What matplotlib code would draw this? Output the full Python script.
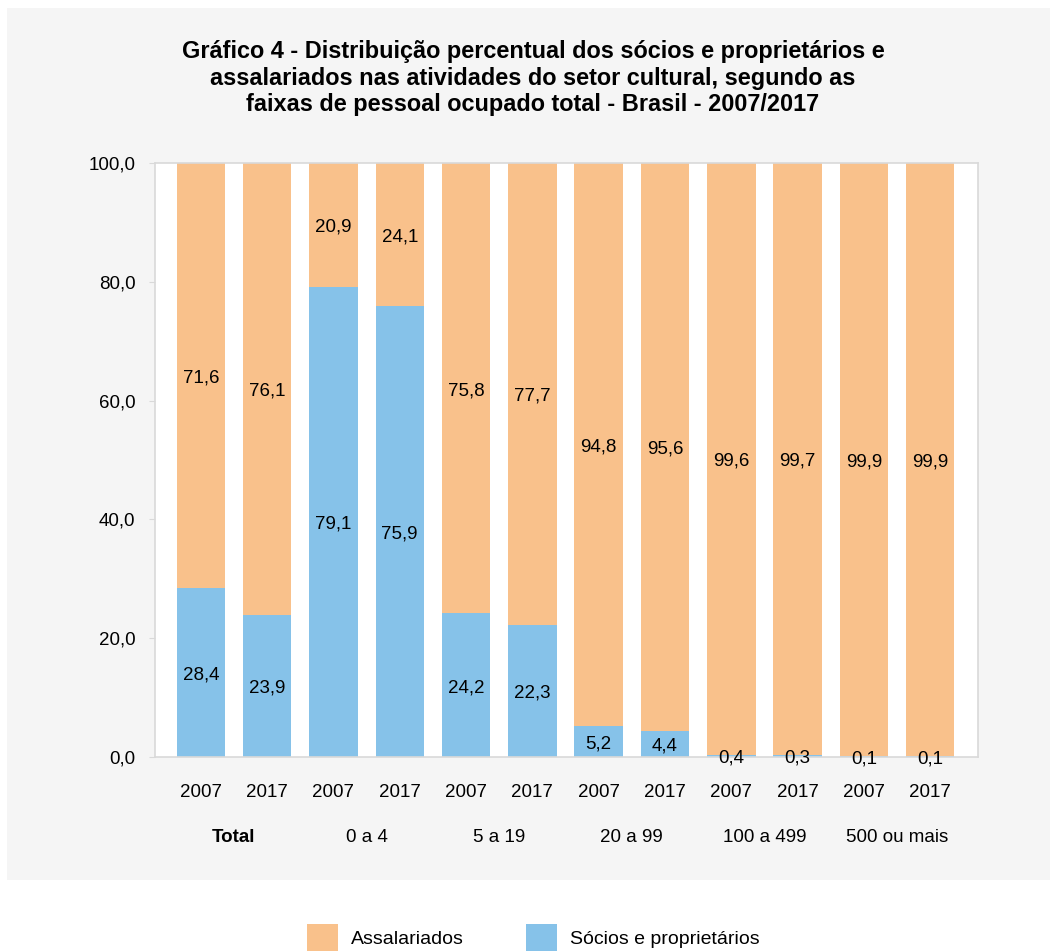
import matplotlib
matplotlib.use('Agg')
import matplotlib.pyplot as plt
from matplotlib.patches import Rectangle
import matplotlib.transforms as mtransforms
import numpy as np

plt.rcParams['font.family'] = ['Liberation Sans', 'DejaVu Sans']

groups = ['Total', '0 a 4', '5 a 19', '20 a 99', '100 a 499', '500 ou mais']
years = ['2007', '2017'] * 6
socios = [28.4, 23.9, 79.1, 75.9, 24.2, 22.3, 5.2, 4.4, 0.4, 0.3, 0.1, 0.1]
assalariados = [71.6, 76.1, 20.9, 24.1, 75.8, 77.7, 94.8, 95.6, 99.6, 99.7, 99.9, 99.9]

orange = '#F9C18B'
blue = '#86C2E9'
fs = 13.5

W, H = 1057, 951
fig = plt.figure(figsize=(W / 100, H / 100), dpi=100)
fig.patches.append(Rectangle((7 / W, 1 - 880 / H), 1043 / W, 872 / H,
                             transform=fig.transFigure, facecolor='#F5F5F5',
                             edgecolor='none', zorder=-10))

ax = fig.add_axes([155 / W, 1 - 757 / H, (978 - 155) / W, (757 - 163) / H])
ax.set_zorder(1)
ax.set_facecolor('white')
x = np.arange(len(socios))
ax.bar(x, socios, width=0.73, color=blue, zorder=2)
ax.bar(x, assalariados, width=0.73, bottom=socios, color=orange, zorder=2)

for i in range(len(x)):
    ax.text(x[i], socios[i] / 2 - 0.4, f'{socios[i]:.1f}'.replace('.', ','),
            ha='center', va='center', fontsize=fs, zorder=3, clip_on=False)
    ax.text(x[i], socios[i] + assalariados[i] / 2 - 0.4,
            f'{assalariados[i]:.1f}'.replace('.', ','),
            ha='center', va='center', fontsize=fs, zorder=3)

ax.set_xlim(-0.69, 11.72)
ax.set_ylim(0, 100)
ax.set_yticks(np.arange(0, 101, 20))
ax.set_yticklabels([f'{v:.1f}'.replace('.', ',') for v in np.arange(0, 101, 20)])
ax.set_xticks(x)
ax.set_xticklabels(years)
ax.tick_params(axis='x', length=0, pad=19.5, labelsize=fs)
ax.tick_params(axis='y', length=4, color='#D9D9D9', pad=10, labelsize=fs)
for s in ax.spines.values():
    s.set_color('#D9D9D9')
    s.set_linewidth(1.2)

trans = mtransforms.blended_transform_factory(ax.transData, fig.transFigure)
for g, name in enumerate(groups):
    ax.text(2 * g + 0.5, 1 - 837 / H, name, transform=trans, ha='center',
            va='center', fontsize=fs,
            fontweight='bold' if name == 'Total' else 'normal')

fig.text(533 / W, 1 - 78 / H,
         'Gráfico 4 - Distribuição percentual dos sócios e proprietários e\n'
         'assalariados nas atividades do setor cultural, segundo as\n'
         'faixas de pessoal ocupado total - Brasil - 2007/2017',
         ha='center', va='center', fontsize=16.9, fontweight='bold',
         linespacing=1.22)

# legend drawn below the panel
for px, col, lab in [(307, orange, 'Assalariados'), (526, blue, 'Sócios e proprietários')]:
    fig.patches.append(Rectangle((px / W, 0), 31 / W, (951 - 924) / H,
                                 transform=fig.transFigure, facecolor=col,
                                 edgecolor='none'))
    fig.text((px + 44) / W, 1 - 940 / H, lab, ha='left', va='center',
             fontsize=14)

fig.savefig('out.png', dpi=100, facecolor='white')
